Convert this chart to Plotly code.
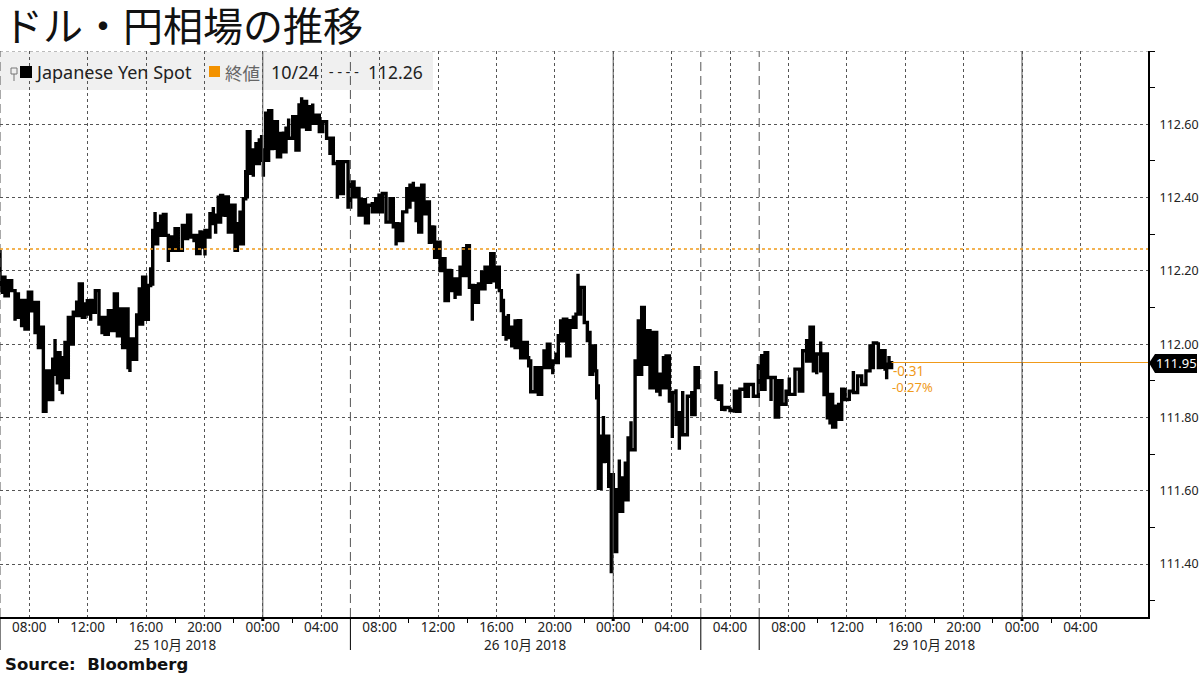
import plotly.graph_objects as go

# hours since the left edge of the chart (06:00 on 25 Oct), weekend removed
hours_a = [0.00,0.18,0.34,0.57,0.80,1.03,1.26,1.48,1.71,1.94,2.17,2.40,2.63,2.85,2.97,3.15,3.38,3.61,3.77,3.93,
           4.11,4.27,4.45,4.68,4.84,5.02,5.25,5.43,5.64,5.82,5.98,6.21,6.39,6.53,6.78,6.99,7.19,7.42,7.65,7.83,
           8.04,8.22,8.40,8.58,8.77,8.90,9.13,9.36,9.54,9.77,9.98,10.16,10.32,10.46,10.62,10.80,11.00,11.19,11.37,11.53,
           11.76,11.99,12.21,12.49,12.67,12.85,13.06,13.29,13.47,13.70,13.86,14.04,14.20,14.38,14.61,14.77,14.95,15.11,15.25,15.43,
           15.64,15.87,16.10,16.26,16.44,16.67,16.83,16.94,17.12,17.35,17.53,17.76,17.92,18.04,18.20,18.40,18.61,18.79,19.00,19.22,
           19.41,19.59,19.77,20.05,20.27,20.48,20.66,20.82,21.00,21.23,21.42,21.64,21.87,22.10,22.37,22.60,22.83,23.11,23.29,23.52,
           23.84,24.02,24.25,24.43,24.59,24.82,25.03,25.23,25.50,25.73,25.96,26.19,26.44,26.71,26.94,27.13,27.35,27.58,27.86,28.08,
           28.31,28.50,28.68,28.88,29.04,29.23,29.41,29.61,29.77,29.96,30.14,30.32,30.48,30.71,30.94,31.17,31.33,31.51,31.74,31.97,
           32.15,32.35,32.54,32.77,32.99,33.22,33.45,33.61,33.84,34.02,34.20,34.34,34.48,34.66,34.82,35.05,35.28,35.50,35.66,35.89,
           36.12,36.21,36.35,36.65,36.87,37.10,37.26,37.49,37.67,37.86,38.08,38.24,38.40,38.59,38.82,39.04,39.27,39.45,39.59,39.77,
           40.02,40.23,40.41,40.60,40.78,40.87,40.98,41.17,41.33,41.51,41.69,41.87,42.01,42.24,42.42,42.65,42.83,43.02,43.22,43.50,
           43.72,43.95,44.13,44.29,44.52,44.75,44.98,45.21,45.44,45.62,45.85,46.05,46.30,46.53,46.76,47.08,47.38,47.61,47.83]
high_a = [112.257,112.183,112.155,112.173,112.164,112.137,112.128,112.119,112.096,112.142,112.137,112.114,112.032,112.046,112.046,111.927,111.904,111.959,112.014,111.977,
          111.954,111.963,112.009,112.073,112.037,112.087,112.119,112.164,112.110,112.110,112.123,112.119,112.123,112.146,112.100,112.073,112.064,112.091,112.087,112.137,
          112.091,112.096,112.064,112.096,112.037,112.014,112.014,112.080,112.155,112.183,112.146,112.160,112.210,112.310,112.361,112.329,112.354,112.354,112.333,112.292,
          112.297,112.315,112.310,112.324,112.310,112.352,112.320,112.297,112.301,112.306,112.310,112.310,112.315,112.356,112.374,112.352,112.406,112.406,112.379,112.402,
          112.374,112.379,112.324,112.329,112.365,112.397,112.475,112.580,112.539,112.530,112.552,112.557,112.571,112.530,112.635,112.637,112.584,112.607,112.580,112.575,
          112.580,112.589,112.616,112.621,112.616,112.653,112.674,112.662,112.648,112.648,112.657,112.625,112.612,112.607,112.584,112.562,112.562,112.498,112.461,112.498,
          112.493,112.443,112.420,112.425,112.393,112.394,112.379,112.379,112.388,112.397,112.411,112.411,112.393,112.397,112.370,112.329,112.333,112.361,112.429,112.434,
          112.443,112.425,112.347,112.434,112.434,112.388,112.352,112.320,112.324,112.278,112.278,112.233,112.183,112.201,112.205,112.178,112.178,112.210,112.265,112.269,
          112.215,112.160,112.164,112.164,112.201,112.210,112.210,112.247,112.247,112.210,112.183,112.119,112.091,112.073,112.082,112.046,112.068,112.064,112.027,112.005,
          112.009,111.954,111.932,111.936,111.936,111.936,111.986,112.000,111.954,111.954,111.977,112.023,112.068,112.068,112.041,112.064,112.078,112.082,112.192,112.155,
          112.142,112.032,111.995,111.995,111.954,111.886,111.845,111.749,111.804,111.749,111.694,111.644,111.525,111.603,111.685,111.635,111.680,111.744,111.790,111.954,
          112.068,112.100,112.100,112.037,111.963,112.032,111.982,111.918,111.968,111.968,111.932,111.868,111.877,111.813,111.872,111.858,111.872,111.936,111.909]
low_a = [112.146,112.137,112.132,112.146,112.146,112.064,112.073,112.046,112.041,112.073,112.091,112.027,111.991,111.991,111.817,111.831,111.849,111.890,111.918,111.890,
         111.877,111.863,111.909,111.973,112.000,112.055,112.078,112.082,112.073,112.078,112.082,112.064,112.087,112.091,112.055,112.027,112.027,112.032,112.037,112.082,
         112.023,112.018,111.991,112.037,111.936,111.924,111.959,112.014,112.055,112.100,112.068,112.100,112.164,112.183,112.274,112.274,112.297,112.301,112.297,112.224,
         112.256,112.256,112.256,112.283,112.288,112.301,112.292,112.278,112.247,112.247,112.265,112.242,112.292,112.310,112.329,112.301,112.333,112.356,112.352,112.347,
         112.306,112.306,112.256,112.265,112.274,112.365,112.402,112.475,112.466,112.457,112.493,112.498,112.502,112.457,112.502,112.575,112.534,112.530,112.511,112.511,
         112.525,112.534,112.562,112.562,112.530,112.589,112.593,112.603,112.586,112.593,112.603,112.603,112.580,112.584,112.562,112.516,112.493,112.397,112.411,112.434,
         112.374,112.402,112.402,112.402,112.352,112.365,112.331,112.333,112.361,112.365,112.361,112.365,112.333,112.352,112.320,112.269,112.283,112.320,112.374,112.383,
         112.393,112.333,112.306,112.329,112.356,112.356,112.278,112.274,112.237,112.237,112.201,112.205,112.119,112.142,112.146,112.123,112.137,112.178,112.187,112.210,
         112.155,112.064,112.114,112.137,112.151,112.155,112.169,112.192,112.173,112.151,112.146,112.087,112.027,112.009,112.018,111.991,111.991,111.991,111.963,111.963,
         111.963,111.936,111.870,111.877,111.863,111.922,111.936,111.954,111.936,111.918,111.950,111.973,112.009,112.027,111.968,112.027,112.046,112.055,112.082,112.123,
         112.059,112.005,111.918,111.918,111.927,111.849,111.607,111.612,111.680,111.676,111.612,111.375,111.434,111.443,111.544,111.562,111.575,111.644,111.712,111.790,
         111.918,111.927,111.945,111.954,111.881,111.954,111.872,111.858,111.881,111.909,111.845,111.744,111.781,111.712,111.753,111.808,111.808,111.872,111.877]

hours_b = [49.04,49.20,49.43,49.66,50.00,50.30,50.46,50.68,51.03,51.26,51.60,51.94,52.17,52.40,52.58,52.81,53.10,53.33,53.56,53.84,
           54.06,54.45,54.75,54.98,55.25,55.48,55.71,55.94,56.21,56.44,56.67,56.85,57.03,57.24,57.44,57.65,57.88,58.17,58.45,58.74,
           59.02,59.31,59.59,59.82,60.16,60.39,60.62,60.73,60.89,61.07]
high_b = [111.927,111.886,111.845,111.827,111.828,111.872,111.872,111.877,111.895,111.890,111.872,111.941,111.973,111.977,111.977,111.909,111.849,111.900,111.895,111.872,
          111.909,111.932,111.932,111.982,112.014,112.046,112.005,111.973,112.007,111.973,111.858,111.863,111.854,111.831,111.840,111.877,111.881,111.872,111.927,111.913,
          111.913,111.927,112.000,112.003,112.005,111.982,111.959,111.945,111.968,111.954]
low_b = [111.854,111.845,111.822,111.817,111.819,111.813,111.817,111.854,111.858,111.863,111.858,111.872,111.877,111.909,111.909,111.845,111.801,111.836,111.836,111.845,
         111.863,111.872,111.872,111.941,111.954,111.995,111.927,111.918,111.927,111.858,111.799,111.781,111.774,111.799,111.795,111.822,111.849,111.845,111.868,111.863,
         111.890,111.895,111.936,111.941,111.936,111.932,111.932,111.904,111.936,111.950]

prev_close = 112.26
last_price = 111.95

y_ticks = [112.60, 112.40, 112.20, 112.00, 111.80, 111.60, 111.40]
y_minor = [112.80, 112.70, 112.50, 112.30, 112.10, 111.90, 111.70, 111.50, 111.30]
x_ticks = [2, 6, 10, 14, 18, 22, 26, 30, 34, 38, 42, 46, 50, 54, 58, 62, 66, 70, 74]
x_labels = ["08:00", "12:00", "16:00", "20:00", "00:00", "04:00",
            "08:00", "12:00", "16:00", "20:00", "00:00", "04:00",
            "04:00", "08:00", "12:00", "16:00", "20:00", "00:00", "04:00"]
x_minor = [4, 8, 12, 16, 20, 28, 32, 36, 40, 44, 56, 60, 64, 68, 72]
midnights = [18, 42, 70]
breaks = [0, 24, 48, 52]

X_END = 78.63
Y_MIN, Y_MAX = 111.2555, 112.80
FONT = "Noto Sans, Noto Sans CJK JP"
ORANGE = "#f09a1a"


def zigzag(hours, high, low):
    xs, ys = [], []
    for i, (h, hi, lo) in enumerate(zip(hours, high, low)):
        xs += [h, h]
        ys += [hi, lo] if i % 2 == 0 else [lo, hi]
    return xs, ys


fig = go.Figure()

for hrs, hi, lo in [(hours_a, high_a, low_a), (hours_b, high_b, low_b)]:
    xs, ys = zigzag(hrs, hi, lo)
    fig.add_trace(go.Scatter(x=xs, y=ys, mode="lines", line=dict(color="black", width=3.4, shape="hv"),
                             showlegend=False, hoverinfo="skip"))

# line from the last price to the axis
fig.add_trace(go.Scatter(x=[hours_b[-1], X_END], y=[last_price, last_price], mode="lines",
                         line=dict(color=ORANGE, width=1.2), showlegend=False, hoverinfo="skip"))
# small arrows on the price axis
fig.add_trace(go.Scatter(x=[X_END + 0.28] * len(y_ticks), y=y_ticks, mode="markers", cliponaxis=False,
                         marker=dict(symbol="triangle-right", color="black", size=8),
                         showlegend=False, hoverinfo="skip"))

for h in midnights:
    fig.add_vline(x=h, line=dict(color="#555555", width=1))
    fig.add_shape(type="line", xref="x", yref="paper", x0=h, x1=h, y0=0, y1=-4 / 566,
                  line=dict(color="black", width=3))
for h in breaks:
    fig.add_vline(x=h, line=dict(color="#555555", width=1, dash="9px,5px"))
    fig.add_shape(type="line", xref="x", yref="paper", x0=h, x1=h, y0=0, y1=-33 / 566,
                  line=dict(color="black", width=1))
fig.add_hline(y=prev_close, line=dict(color=ORANGE, width=1.5, dash="dot"))


def px_x(p):
    return p / 1148


def px_y(p):
    return (617 - p) / 566


# legend band and its swatches
fig.add_shape(type="rect", xref="paper", yref="paper", x0=0, x1=px_x(433), y0=px_y(90), y1=px_y(52),
              fillcolor="#f0f0f0", line_width=0, layer="below")
fig.add_shape(type="rect", xref="paper", yref="paper", x0=px_x(20), x1=px_x(32), y0=px_y(78), y1=px_y(66),
              fillcolor="black", line_width=0)
fig.add_shape(type="rect", xref="paper", yref="paper", x0=px_x(209), x1=px_x(220), y0=px_y(77), y1=px_y(66),
              fillcolor="#f39200", line_width=0)
fig.add_shape(type="rect", xref="paper", yref="paper", x0=px_x(11), x1=px_x(17), y0=px_y(74), y1=px_y(68),
              fillcolor="rgba(0,0,0,0)", line=dict(color="#777777", width=1))
fig.add_shape(type="line", xref="paper", yref="paper", x0=px_x(14), x1=px_x(14), y0=px_y(81), y1=px_y(74),
              line=dict(color="#777777", width=1))
# black price tag
tag = "M {} {} L {} {} L {} {} L {} {} L {} {} Z".format(
    px_x(1149), px_y(363), px_x(1155), px_y(354), px_x(1197), px_y(354), px_x(1197), px_y(373), px_x(1155), px_y(373))
fig.add_shape(type="path", xref="paper", yref="paper", path=tag, fillcolor="black", line_width=0)


def label(text, x, y, size=13, color="#222222", anchor="left", family=FONT):
    fig.add_annotation(text=text, xref="paper", yref="paper", x=px_x(x), y=px_y(y), showarrow=False,
                       xanchor=anchor, yanchor="middle", font=dict(size=size, color=color, family=family))


label("ドル・円相場の推移", 1, 24, size=40, color="#111111", family="Noto Sans CJK JP")
label("Japanese Yen Spot", 33, 72, size=18)
label("終値", 223, 72, size=17.5, color="#666666", family="Noto Sans CJK JP")
label("10/24", 269, 72, size=18)
label("----", 325, 72, size=14, family="DejaVu Sans Mono")
label("112.26", 366, 72, size=17.5)
label("-0.31", 891, 371, size=13.5, color=ORANGE)
label("-0.27%", 890, 387, size=13, color=ORANGE)
label("111.95", 1176, 363, size=13, color="white", anchor="center")
label("25 10月 2018", 175, 645, size=13.5, anchor="center")
label("26 10月 2018", 525, 645, size=13.5, anchor="center")
label("29 10月 2018", 934, 645, size=13.5, anchor="center")
label("<b>Source:  Bloomberg</b>", 3, 664, size=16.5, color="#111111", family="DejaVu Sans")

fig.update_layout(
    width=1200, height=675,
    margin=dict(l=0, r=52, t=51, b=58),
    paper_bgcolor="white", plot_bgcolor="white",
    font=dict(family=FONT, size=13, color="#222222"),
    showlegend=False,
    xaxis=dict(range=[0, X_END], tickvals=x_ticks, ticktext=x_labels, ticks="", tickangle=0,
               tickfont=dict(size=13.5), ticklabelstandoff=-3,
               showgrid=True, gridcolor="#555555", griddash="dot", gridwidth=0.8, zeroline=False,
               showline=True, linecolor="black", linewidth=1.5,
               minor=dict(tickvals=x_minor, ticks="outside", ticklen=4, tickcolor="black", showgrid=False)),
    yaxis=dict(range=[Y_MIN, Y_MAX], side="right", tickvals=y_ticks, ticktext=["%.2f" % v for v in y_ticks],
               tickfont=dict(size=12.5),
               ticks="outside", ticklen=7, tickcolor="rgba(0,0,0,0)",
               showgrid=True, gridcolor="#555555", griddash="dot", gridwidth=0.8, zeroline=False,
               showline=True, linecolor="black", linewidth=2,
               minor=dict(tickvals=y_minor, ticks="outside", ticklen=5, tickcolor="black", showgrid=False)),
)
# dotted line along the top of the plot
fig.add_hline(y=Y_MAX, line=dict(color="#555555", width=0.8, dash="dot"))

# the page margin would push the picture out of the window
fig.write_html("out.html", config={"displayModeBar": False}, post_script="document.body.style.margin='0';")
